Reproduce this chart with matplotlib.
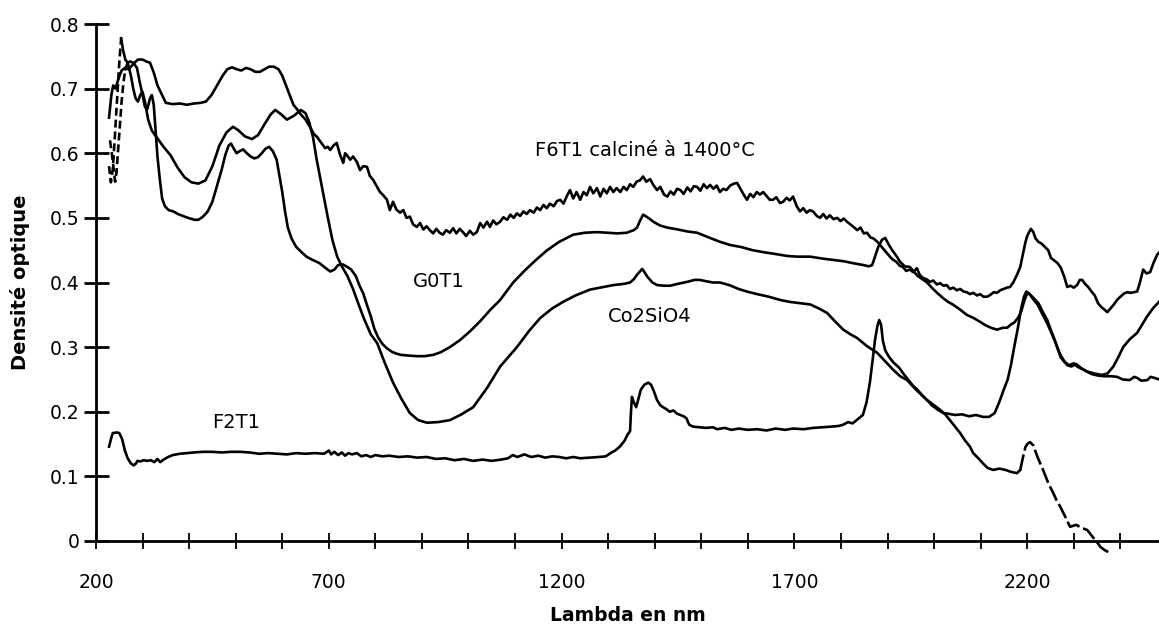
import numpy as np
import matplotlib
matplotlib.use("Agg")
import matplotlib.pyplot as plt
from matplotlib.ticker import FixedLocator

# wavelengths (nm) and optical densities
f6_nm = [228, 233, 237, 242, 248, 255, 262, 270, 280, 290, 300, 308, 316, 324, 332, 342, 350, 365, 380, 395,
         410, 425, 436, 448, 460, 472, 482, 492, 502, 512, 522, 532, 542, 552, 562, 572, 582, 592, 600, 608,
         616, 624, 632, 640, 650, 660, 668, 675, 685, 692, 698, 703, 710, 717, 724, 731, 735, 739, 746, 752,
         760, 767, 774, 782, 788, 795, 802, 810, 817, 825, 831, 838, 845, 853, 860, 867, 874, 881, 889, 896,
         903, 910, 917, 924, 931, 938, 945, 952, 960, 967, 974, 981, 988, 995, 1003, 1010, 1018, 1025, 1032, 1040,
         1046, 1053, 1060, 1068, 1075, 1083, 1090, 1097, 1104, 1111, 1118, 1125, 1132, 1140, 1147, 1154, 1161, 1168, 1175, 1183,
         1190, 1197, 1204, 1212, 1218, 1225, 1232, 1240, 1247, 1254, 1261, 1268, 1276, 1283, 1290, 1297, 1304, 1311, 1318, 1326,
         1333, 1340, 1347, 1354, 1361, 1368, 1375, 1382, 1390, 1397, 1405, 1412, 1420, 1427, 1434, 1441, 1448, 1455, 1462, 1470,
         1477, 1484, 1491, 1498, 1505, 1512, 1519, 1526, 1533, 1540, 1547, 1554, 1562, 1570, 1577, 1584, 1591, 1598, 1605, 1612,
         1619, 1626, 1633, 1640, 1647, 1654, 1661, 1669, 1676, 1683, 1690, 1697, 1705, 1712, 1719, 1726, 1733, 1740, 1748, 1755,
         1762, 1769, 1776, 1784, 1792, 1799, 1806, 1813, 1820, 1827, 1835, 1842, 1849, 1856, 1863, 1870, 1878, 1884, 1891, 1898,
         1905, 1912, 1919, 1926, 1933, 1940, 1948, 1955, 1963, 1969, 1976, 1984, 1991, 1998, 2006, 2013, 2020, 2027, 2034, 2041,
         2049, 2056, 2063, 2070, 2077, 2084, 2092, 2099, 2106, 2114, 2121, 2128, 2135, 2142, 2149, 2156, 2163, 2170, 2178, 2185,
         2191, 2196, 2200, 2204, 2208, 2213, 2218, 2224, 2231, 2238, 2245, 2251, 2258, 2265, 2272, 2279, 2286, 2293, 2300, 2307,
         2313, 2318, 2324, 2331, 2338, 2345, 2352, 2359, 2366, 2372, 2379, 2386, 2393, 2400, 2408, 2415, 2422, 2429, 2436, 2442,
         2449, 2456, 2464, 2471, 2479, 2483]
f6_do = [0.655, 0.69, 0.705, 0.70, 0.715, 0.728, 0.732, 0.73, 0.738, 0.745, 0.745, 0.742, 0.74, 0.725, 0.705, 0.69, 0.678, 0.676, 0.677, 0.675,
         0.677, 0.678, 0.68, 0.69, 0.705, 0.72, 0.73, 0.733, 0.73, 0.728, 0.732, 0.73, 0.726, 0.726, 0.73, 0.734, 0.734, 0.73, 0.72, 0.705,
         0.69, 0.675, 0.668, 0.66, 0.652, 0.64, 0.63, 0.625, 0.615, 0.608, 0.61, 0.605, 0.612, 0.616, 0.598, 0.585, 0.60, 0.597, 0.59, 0.595,
         0.587, 0.574, 0.58, 0.579, 0.565, 0.559, 0.55, 0.54, 0.535, 0.528, 0.512, 0.525, 0.513, 0.508, 0.512, 0.50, 0.502, 0.49, 0.486, 0.492,
         0.482, 0.487, 0.481, 0.476, 0.483, 0.477, 0.474, 0.481, 0.477, 0.484, 0.476, 0.483, 0.478, 0.472, 0.48, 0.474, 0.478, 0.492, 0.485, 0.494,
         0.486, 0.496, 0.49, 0.494, 0.501, 0.497, 0.505, 0.50, 0.507, 0.503, 0.51, 0.506, 0.512, 0.508, 0.516, 0.512, 0.52, 0.515, 0.522, 0.518,
         0.526, 0.528, 0.522, 0.535, 0.543, 0.53, 0.54, 0.528, 0.54, 0.535, 0.548, 0.538, 0.546, 0.533, 0.545, 0.538, 0.548, 0.54, 0.546, 0.54,
         0.548, 0.543, 0.552, 0.548, 0.556, 0.558, 0.564, 0.556, 0.56, 0.551, 0.543, 0.548, 0.536, 0.533, 0.541, 0.536, 0.545, 0.543, 0.537, 0.547,
         0.541, 0.549, 0.548, 0.542, 0.552, 0.546, 0.551, 0.545, 0.55, 0.54, 0.545, 0.543, 0.55, 0.553, 0.554, 0.545, 0.536, 0.528, 0.537, 0.532,
         0.54, 0.536, 0.54, 0.534, 0.528, 0.528, 0.532, 0.523, 0.525, 0.531, 0.527, 0.533, 0.518, 0.51, 0.515, 0.508, 0.512, 0.51, 0.503, 0.50,
         0.506, 0.499, 0.504, 0.498, 0.50, 0.495, 0.499, 0.494, 0.49, 0.486, 0.481, 0.485, 0.476, 0.477, 0.47, 0.468, 0.463, 0.458, 0.452, 0.446,
         0.44, 0.435, 0.432, 0.426, 0.424, 0.418, 0.42, 0.416, 0.422, 0.412, 0.407, 0.405, 0.401, 0.403, 0.397, 0.399, 0.395, 0.396, 0.39, 0.392,
         0.388, 0.39, 0.386, 0.385, 0.382, 0.384, 0.38, 0.382, 0.378, 0.378, 0.381, 0.385, 0.384, 0.388, 0.39, 0.392, 0.393, 0.40, 0.412, 0.424,
         0.445, 0.462, 0.472, 0.478, 0.483, 0.478, 0.468, 0.463, 0.46, 0.455, 0.45, 0.438, 0.434, 0.43, 0.423, 0.41, 0.393, 0.395, 0.392, 0.396,
         0.404, 0.404, 0.398, 0.393, 0.386, 0.38, 0.368, 0.362, 0.358, 0.354, 0.36, 0.366, 0.373, 0.378, 0.383, 0.385, 0.384, 0.385, 0.386, 0.40,
         0.42, 0.414, 0.416, 0.43, 0.443, 0.446]

g0_nm = [230, 234, 238, 241, 244, 247, 251, 255, 259, 263, 268, 273, 280, 288, 294, 300, 305, 310, 316, 320,
         324, 328, 332, 337, 342, 348, 356, 366, 376, 390, 402, 412, 420, 430, 440, 450, 460, 470, 478, 485,
         490, 496, 502, 508, 516, 524, 532, 540, 548, 556, 564, 572, 580, 588, 594, 600, 606, 612, 620, 630,
         640, 652, 665, 680, 692, 703, 712, 720, 730, 740, 748, 758, 766, 774, 782, 790, 798, 806, 815, 825,
         835, 845, 855, 870, 890, 905, 924, 940, 960, 982, 1004, 1025, 1046, 1068, 1096, 1120, 1145, 1169, 1195, 1225,
         1250, 1276, 1300, 1320, 1340, 1355, 1362, 1368, 1375, 1382, 1390, 1397, 1412, 1427, 1450, 1470, 1491, 1515, 1540, 1562,
         1585, 1610, 1633, 1660, 1685, 1706, 1734, 1760, 1783, 1805, 1825, 1848, 1860, 1867, 1873, 1880, 1888, 1895, 1903, 1910,
         1920, 1927, 1937, 1948, 1955, 1965, 1975, 1985, 1995, 2005, 2019, 2030, 2040, 2056, 2070, 2085, 2099, 2110, 2122, 2135,
         2148, 2157, 2165, 2172, 2180, 2187, 2193, 2198, 2202, 2208, 2215, 2224, 2233, 2243, 2250, 2257, 2265, 2272, 2280, 2290,
         2300, 2307, 2318, 2330, 2345, 2360, 2372, 2385, 2396, 2406, 2420, 2436, 2447, 2457, 2470, 2483]
g0_do = [0.62, 0.60, 0.575, 0.556, 0.57, 0.60, 0.64, 0.68, 0.71, 0.73, 0.74, 0.742, 0.74, 0.732, 0.71, 0.69, 0.672, 0.668, 0.685, 0.69,
         0.675, 0.635, 0.595, 0.56, 0.53, 0.518, 0.512, 0.51, 0.506, 0.502, 0.499, 0.497, 0.497, 0.502, 0.51, 0.525, 0.55, 0.575, 0.598, 0.612,
         0.615, 0.607, 0.60, 0.603, 0.606, 0.60, 0.595, 0.592, 0.594, 0.60, 0.607, 0.61, 0.603, 0.59, 0.565, 0.54, 0.51, 0.485, 0.468, 0.455,
         0.448, 0.44, 0.435, 0.43, 0.423, 0.417, 0.42, 0.427, 0.428, 0.424, 0.42, 0.41, 0.395, 0.383, 0.365, 0.348, 0.328, 0.315, 0.305, 0.298,
         0.293, 0.29, 0.288, 0.287, 0.286, 0.286, 0.288, 0.292, 0.30, 0.311, 0.325, 0.34, 0.357, 0.373, 0.40, 0.418, 0.435, 0.45, 0.463, 0.474,
         0.477, 0.478, 0.477, 0.476, 0.477, 0.481, 0.485, 0.495, 0.505, 0.502, 0.498, 0.494, 0.488, 0.485, 0.482, 0.479, 0.477, 0.47, 0.463, 0.458,
         0.455, 0.45, 0.447, 0.444, 0.441, 0.44, 0.44, 0.437, 0.435, 0.433, 0.43, 0.427, 0.425, 0.427, 0.44, 0.455, 0.466, 0.469, 0.458, 0.45,
         0.44, 0.432, 0.425, 0.424, 0.418, 0.41, 0.405, 0.40, 0.392, 0.385, 0.376, 0.37, 0.366, 0.358, 0.35, 0.345, 0.339, 0.334, 0.33, 0.327,
         0.33, 0.33, 0.335, 0.338, 0.345, 0.355, 0.37, 0.38, 0.384, 0.38, 0.375, 0.368, 0.355, 0.342, 0.328, 0.315, 0.298, 0.284, 0.277, 0.272,
         0.275, 0.27, 0.266, 0.262, 0.259, 0.257, 0.259, 0.27, 0.285, 0.30, 0.312, 0.322, 0.335, 0.347, 0.36, 0.37]
g0_dash_end = 263

co_nm = [228, 232, 236, 240, 245, 250, 254, 258, 263, 268, 275, 280, 285, 290, 295, 300, 305, 312, 320, 330,
         345, 360, 375, 390, 405, 420, 435, 450, 465, 480, 494, 505, 520, 535, 548, 562, 575, 585, 598, 610,
         625, 640, 650, 658, 666, 674, 682, 690, 698, 708, 718, 728, 740, 752, 762, 775, 790, 804, 820, 838,
         856, 874, 892, 911, 935, 960, 985, 1010, 1040, 1068, 1104, 1130, 1154, 1180, 1203, 1230, 1261, 1290, 1311, 1335,
         1347, 1355, 1362, 1373, 1378, 1384, 1395, 1405, 1420, 1433, 1450, 1470, 1485, 1497, 1510, 1525, 1540, 1560, 1580, 1598,
         1620, 1645, 1669, 1690, 1712, 1734, 1752, 1770, 1787, 1805, 1820, 1835, 1855, 1878, 1895, 1912, 1927, 1942, 1960, 1985,
         2000, 2013, 2025, 2034, 2045, 2056, 2066, 2077, 2084, 2095, 2105, 2115, 2127, 2140, 2153, 2165, 2178, 2185, 2191, 2196,
         2200, 2206, 2213, 2222, 2234, 2245, 2256, 2263, 2271, 2280, 2292, 2305, 2318, 2329, 2342, 2350, 2357, 2366, 2374]
co_do = [0.58, 0.555, 0.575, 0.62, 0.68, 0.74, 0.778, 0.76, 0.745, 0.74, 0.72, 0.70, 0.685, 0.68, 0.69, 0.695, 0.68, 0.652, 0.635, 0.625,
         0.61, 0.597, 0.578, 0.563, 0.555, 0.553, 0.558, 0.58, 0.612, 0.632, 0.641, 0.636, 0.626, 0.622, 0.628, 0.645, 0.66, 0.667, 0.66, 0.652,
         0.658, 0.667, 0.662, 0.648, 0.625, 0.59, 0.56, 0.53, 0.50, 0.465, 0.44, 0.425, 0.41, 0.39, 0.37, 0.345, 0.32, 0.306, 0.276, 0.245,
         0.22, 0.198, 0.187, 0.183, 0.184, 0.187, 0.196, 0.207, 0.237, 0.27, 0.30, 0.325, 0.345, 0.36, 0.37, 0.38, 0.389, 0.393, 0.396, 0.398,
         0.40, 0.405, 0.412, 0.421, 0.416, 0.409, 0.40, 0.396, 0.395, 0.395, 0.398, 0.401, 0.404, 0.404, 0.402, 0.40, 0.40, 0.396, 0.39, 0.386,
         0.382, 0.378, 0.373, 0.37, 0.368, 0.366, 0.36, 0.353, 0.34, 0.327, 0.32, 0.314, 0.302, 0.291, 0.278, 0.265, 0.255, 0.249, 0.235, 0.218,
         0.21, 0.203, 0.195, 0.187, 0.177, 0.167, 0.156, 0.146, 0.136, 0.128, 0.12, 0.113, 0.11, 0.112, 0.11, 0.107, 0.105, 0.11, 0.13, 0.145,
         0.15, 0.153, 0.148, 0.13, 0.11, 0.09, 0.074, 0.063, 0.053, 0.04, 0.022, 0.025, 0.02, 0.017, 0.005, -0.002, -0.009, -0.014, -0.017]
co_dash_end = 254
co_dash_start = 2185

f2_nm = [228, 233, 236, 245, 250, 256, 262, 268, 275, 281, 286, 289, 295, 302, 310, 318, 325, 332, 338, 345,
         355, 365, 380, 395, 410, 430, 450, 470, 490, 510, 530, 550, 570, 590, 610, 630, 650, 670, 690, 700,
         705, 712, 720, 728, 735, 742, 750, 760, 770, 780, 790, 800, 815, 830, 850, 870, 890, 910, 930, 950,
         970, 990, 1010, 1030, 1050, 1070, 1085, 1095, 1105, 1120, 1135, 1150, 1165, 1180, 1195, 1210, 1225, 1240, 1260, 1280,
         1295, 1305, 1315, 1325, 1335, 1342, 1347, 1349, 1351, 1355, 1360, 1365, 1370, 1378, 1386, 1392, 1398, 1405, 1412, 1418,
         1425, 1432, 1440, 1448, 1455, 1462, 1468, 1474, 1482, 1495, 1510, 1525, 1534, 1550, 1565, 1580, 1600, 1620, 1640, 1660,
         1680, 1697, 1720, 1740, 1760, 1780, 1795, 1805, 1815, 1825, 1835, 1847, 1855, 1862, 1868, 1873, 1878, 1882, 1886, 1890,
         1895, 1903, 1913, 1925, 1935, 1945, 1955, 1963, 1975, 1985, 1995, 2008, 2020, 2030, 2045, 2060, 2075, 2090, 2105, 2118,
         2130, 2140, 2150, 2158, 2165, 2172, 2180, 2187, 2193, 2198, 2204, 2212, 2222, 2232, 2242, 2252, 2262, 2270, 2278, 2286,
         2295, 2305, 2315, 2328, 2340, 2352, 2365, 2380, 2393, 2405, 2420, 2430, 2437, 2445, 2458, 2465, 2475, 2483]
f2_do = [0.146, 0.16, 0.167, 0.168, 0.167, 0.158, 0.14, 0.128, 0.12, 0.117, 0.12, 0.124, 0.123, 0.125, 0.124, 0.125, 0.122, 0.127, 0.122, 0.126,
         0.13, 0.133, 0.135, 0.136, 0.137, 0.138, 0.138, 0.137, 0.138, 0.138, 0.137, 0.135, 0.136, 0.135, 0.134, 0.136, 0.135, 0.136, 0.135, 0.14,
         0.134, 0.138, 0.133, 0.137, 0.132, 0.136, 0.134, 0.136, 0.131, 0.133, 0.13, 0.133, 0.131, 0.132, 0.13, 0.131, 0.129, 0.13, 0.127, 0.128,
         0.125, 0.127, 0.124, 0.126, 0.124, 0.126, 0.128, 0.133, 0.13, 0.134, 0.13, 0.132, 0.129, 0.131, 0.13, 0.128, 0.13, 0.128, 0.129, 0.13,
         0.131, 0.136, 0.14, 0.146, 0.155, 0.165, 0.17, 0.20, 0.223, 0.215, 0.207, 0.22, 0.234, 0.242, 0.245, 0.242, 0.232, 0.218, 0.21, 0.207,
         0.204, 0.20, 0.202, 0.197, 0.195, 0.193, 0.19, 0.18, 0.177, 0.176, 0.175, 0.176, 0.173, 0.175, 0.172, 0.174, 0.172, 0.173, 0.171, 0.174,
         0.172, 0.174, 0.173, 0.175, 0.176, 0.177, 0.178, 0.18, 0.184, 0.182, 0.188, 0.195, 0.215, 0.245, 0.28, 0.311, 0.332, 0.342, 0.335, 0.31,
         0.295, 0.285, 0.276, 0.268, 0.258, 0.249, 0.24, 0.235, 0.225, 0.218, 0.21, 0.203, 0.198, 0.197, 0.195, 0.196, 0.193, 0.195, 0.192, 0.192,
         0.198, 0.215, 0.235, 0.25, 0.272, 0.30, 0.33, 0.36, 0.378, 0.386, 0.383, 0.375, 0.366, 0.352, 0.338, 0.322, 0.305, 0.29, 0.28, 0.272,
         0.27, 0.274, 0.268, 0.262, 0.258, 0.256, 0.255, 0.255, 0.254, 0.25, 0.249, 0.254, 0.252, 0.248, 0.249, 0.254, 0.252, 0.25]

x_major = [200, 700, 1200, 1700, 2200]
x_minor = [300, 400, 500, 600, 800, 900, 1000, 1100, 1300, 1400, 1500, 1600,
           1800, 1900, 2000, 2100, 2300, 2400]
y_ticks = [0, 0.1, 0.2, 0.3, 0.4, 0.5, 0.6, 0.7, 0.8]
y_labels = ['0', '0.1', '0.2', '0.3', '0.4', '0.5', '0.6', '0.7', '0.8']


def draw(ax, nm, do, dash_before=None, dash_after=None):
    nm = np.array(nm, dtype=float)
    do = np.array(do, dtype=float)
    lo = nm.min() if dash_before is None else dash_before
    hi = nm.max() if dash_after is None else dash_after
    solid = (nm >= lo) & (nm <= hi)
    kw = dict(color='black', lw=1.9, clip_on=False, solid_joinstyle='round')
    ax.plot(nm[solid], do[solid], **kw)
    if dash_before is not None:
        m = nm <= dash_before
        ax.plot(nm[m], do[m], ls=(0, (3, 1.5)), **kw)
    if dash_after is not None:
        m = nm >= dash_after
        ax.plot(nm[m], do[m], ls=(0, (6, 1.5)), **kw)


fig = plt.figure(figsize=(11.59, 6.28), dpi=100)
ax = fig.add_axes([96 / 1159, 87 / 628, 1 - 96 / 1159, 517 / 628])

draw(ax, f6_nm, f6_do)
draw(ax, g0_nm, g0_do, dash_before=g0_dash_end)
draw(ax, co_nm, co_do, dash_before=co_dash_end, dash_after=co_dash_start)
draw(ax, f2_nm, f2_do)

ax.set_xlim(200, 2483)
ax.set_ylim(0, 0.8)
for s in ['top', 'right']:
    ax.spines[s].set_visible(False)
for s in ['left', 'bottom']:
    ax.spines[s].set_linewidth(2)

ax.xaxis.set_major_locator(FixedLocator(x_major))
ax.xaxis.set_minor_locator(FixedLocator(x_minor))
ax.set_yticks(y_ticks)
ax.set_yticklabels(y_labels)
ax.tick_params(axis='x', which='both', direction='inout', length=12, width=1.3,
               pad=17, labelsize=13.5)
ax.tick_params(axis='y', which='major', direction='inout', length=18, width=2,
               pad=3, labelsize=13.5)

ax.set_xlabel('Lambda en nm', fontsize=13.5, fontweight='bold', labelpad=10)
ax.set_ylabel('Densité optique', fontsize=14, fontweight='bold', labelpad=14)

ax.text(1143, 0.605, 'F6T1 calciné à 1400°C', fontsize=14, va='center')
ax.text(881, 0.401, 'G0T1', fontsize=14, va='center')
ax.text(1300, 0.347, 'Co2SiO4', fontsize=14, va='center')
ax.text(449, 0.184, 'F2T1', fontsize=14, va='center')

fig.savefig('out.png', dpi=100)
